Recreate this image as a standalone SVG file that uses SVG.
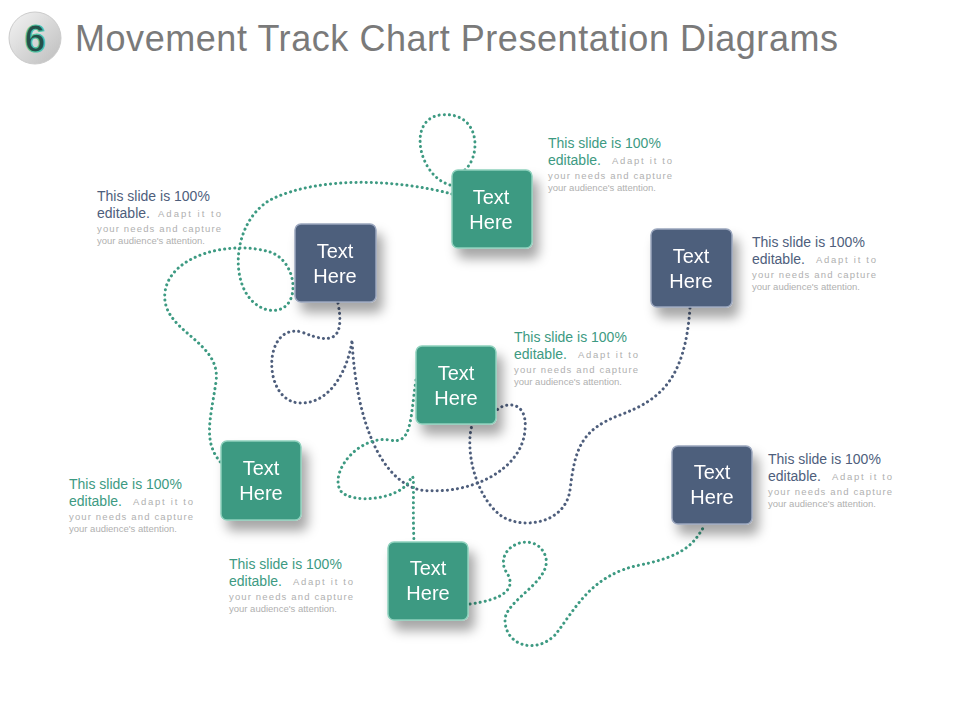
<svg xmlns="http://www.w3.org/2000/svg" width="960" height="720" viewBox="0 0 960 720">
<defs>
<filter id="sh" x="-30%" y="-30%" width="170%" height="170%"><feDropShadow dx="6" dy="10" stdDeviation="6" flood-color="#000" flood-opacity="0.35"/></filter>
<linearGradient id="ring" x1="0" y1="0" x2="1" y2="1"><stop offset="0" stop-color="#f4f4f4"/><stop offset="1" stop-color="#bdbdbd"/></linearGradient>
<style>
.t{fill:#3d9a82;stroke:#8fd1bd;stroke-width:1.5}
.n{fill:#4e5e7c;stroke:#9aa6bd;stroke-width:1.5}
.lb{font-family:"Liberation Sans",Arial,sans-serif;font-size:20px;fill:#fff;text-anchor:middle}
.dt{fill:none;stroke:#3d9a82;stroke-width:3;stroke-dasharray:0.1 5;stroke-linecap:round}
.dn{fill:none;stroke:#4e5e7c;stroke-width:3;stroke-dasharray:0.1 5;stroke-linecap:round}
.h{font-family:"Liberation Sans",Arial,sans-serif;font-size:14px}
.s{font-family:"Liberation Sans",Arial,sans-serif;font-size:9.5px;fill:#b0b0b0}
.ct{fill:#3d9a82}.cn{fill:#4e5e7c}
</style>
</defs>
<rect width="960" height="720" fill="#fff"/>
<g id="title">
<circle cx="35" cy="38" r="26" fill="url(#ring)" stroke="#ccc"/>
<text x="35" y="52" font-family="Liberation Sans,Arial,sans-serif" font-size="38" font-weight="bold" fill="#24504a" stroke="#4fc4a4" stroke-width="1.2" text-anchor="middle">6</text>
<text x="75" y="51" font-family="Liberation Sans,Arial,sans-serif" font-size="36" fill="#7a7a7a" textLength="763">Movement Track Chart Presentation Diagrams</text>
</g>
<g id="connectors">
<path class="dt" d="M455,186 C420,182 405,120 440,115 C482,110 482,160 462,172"/>
<path class="dt" d="M452,194 C400,180 320,175 270,200 C228,225 228,300 268,310 C302,316 300,262 270,252 C230,240 170,255 165,292 C160,332 222,340 216,382 C210,422 202,444 224,466"/>
<path class="dn" d="M338,303 C345,340 332,345 302,332 C262,322 262,402 300,403 C335,404 350,360 352,340 C356,420 380,480 420,490 C470,496 522,470 525,430 C528,400 505,402 497,410"/>
<path class="dn" d="M690,308 C685,380 660,400 620,415 C580,430 575,450 570,490 C565,525 520,530 500,515 C475,495 465,450 472,425"/>
<path class="dt" d="M416,380 C410,420 412,445 390,440 C360,435 330,470 340,490 C350,505 400,500 410,480 C416,465 412,500 414,542"/>
<path class="dt" d="M470,604 C500,600 520,590 505,570 C495,545 535,530 545,555 C555,580 505,600 505,620 C505,645 535,655 555,635 C575,610 590,575 640,565 C690,555 695,540 705,525"/>
</g>
<g id="node1" filter="url(#sh)"><rect class="t" x="452" y="170" width="80" height="78" rx="6"/><text class="lb" x="491" y="204">Text</text><text class="lb" x="491" y="229">Here</text></g>
<g id="node2" filter="url(#sh)"><rect class="n" x="295" y="224" width="81" height="78" rx="6"/><text class="lb" x="335" y="258">Text</text><text class="lb" x="335" y="283">Here</text></g>
<g id="node3" filter="url(#sh)"><rect class="n" x="651" y="229" width="81" height="78" rx="6"/><text class="lb" x="691" y="263">Text</text><text class="lb" x="691" y="288">Here</text></g>
<g id="node4" filter="url(#sh)"><rect class="t" x="416" y="346" width="80" height="78" rx="6"/><text class="lb" x="456" y="380">Text</text><text class="lb" x="456" y="405">Here</text></g>
<g id="node5" filter="url(#sh)"><rect class="t" x="221" y="441" width="80" height="79" rx="6"/><text class="lb" x="261" y="475">Text</text><text class="lb" x="261" y="500">Here</text></g>
<g id="node6" filter="url(#sh)"><rect class="n" x="672" y="446" width="80" height="78" rx="6"/><text class="lb" x="712" y="479">Text</text><text class="lb" x="712" y="504">Here</text></g>
<g id="node7" filter="url(#sh)"><rect class="t" x="388" y="542" width="80" height="78" rx="6"/><text class="lb" x="428" y="575">Text</text><text class="lb" x="428" y="600">Here</text></g>
<g id="texts">
<g><text class="h ct" x="548" y="148">This slide is 100%</text><text x="548" y="165"><tspan class="h ct">editable.</tspan><tspan class="s" x="612" y="164" textLength="60">Adapt it to</tspan></text><text class="s" x="548" y="179" textLength="124">your needs and capture</text><text class="s" x="548" y="191">your audience's attention.</text></g>
<g><text class="h cn" x="97" y="201">This slide is 100%</text><text x="97" y="218"><tspan class="h cn">editable.</tspan><tspan class="s" x="158" y="217" textLength="63">Adapt it to</tspan></text><text class="s" x="97" y="232" textLength="124">your needs and capture</text><text class="s" x="97" y="244">your audience's attention.</text></g>
<g><text class="h cn" x="752" y="247">This slide is 100%</text><text x="752" y="264"><tspan class="h cn">editable.</tspan><tspan class="s" x="816" y="263" textLength="60">Adapt it to</tspan></text><text class="s" x="752" y="278" textLength="124">your needs and capture</text><text class="s" x="752" y="290">your audience's attention.</text></g>
<g><text class="h ct" x="514" y="342">This slide is 100%</text><text x="514" y="359"><tspan class="h ct">editable.</tspan><tspan class="s" x="578" y="358" textLength="60">Adapt it to</tspan></text><text class="s" x="514" y="373" textLength="124">your needs and capture</text><text class="s" x="514" y="385">your audience's attention.</text></g>
<g><text class="h ct" x="69" y="489">This slide is 100%</text><text x="69" y="506"><tspan class="h ct">editable.</tspan><tspan class="s" x="133" y="505" textLength="60">Adapt it to</tspan></text><text class="s" x="69" y="520" textLength="124">your needs and capture</text><text class="s" x="69" y="532">your audience's attention.</text></g>
<g><text class="h cn" x="768" y="464">This slide is 100%</text><text x="768" y="481"><tspan class="h cn">editable.</tspan><tspan class="s" x="832" y="480" textLength="60">Adapt it to</tspan></text><text class="s" x="768" y="495" textLength="124">your needs and capture</text><text class="s" x="768" y="507">your audience's attention.</text></g>
<g><text class="h ct" x="229" y="569">This slide is 100%</text><text x="229" y="586"><tspan class="h ct">editable.</tspan><tspan class="s" x="293" y="585" textLength="60">Adapt it to</tspan></text><text class="s" x="229" y="600" textLength="124">your needs and capture</text><text class="s" x="229" y="612">your audience's attention.</text></g>
</g>
</svg>
